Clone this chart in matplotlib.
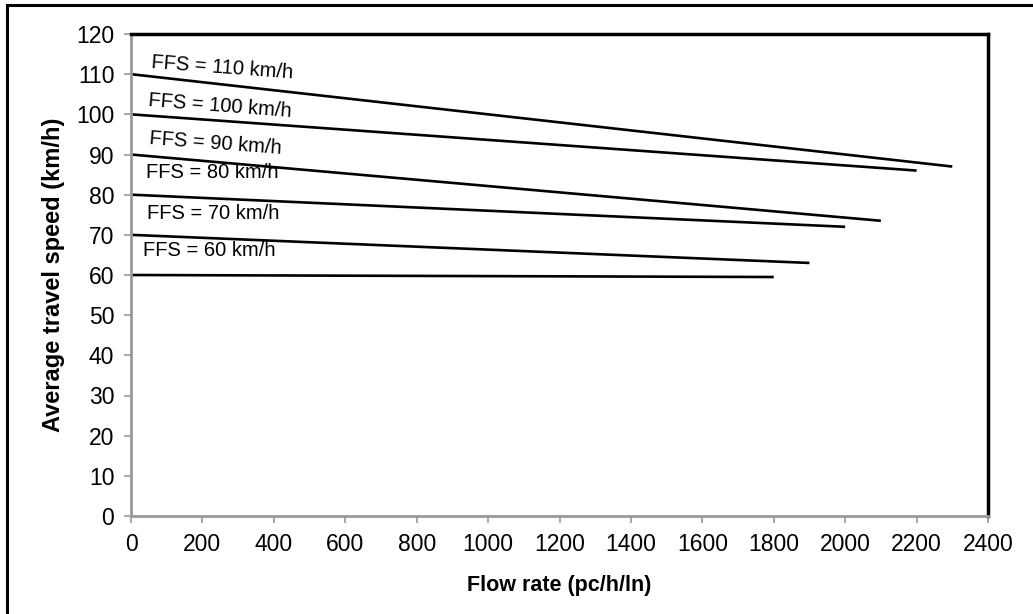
import matplotlib.pyplot as plt
from matplotlib.patches import Rectangle

# free-flow speed curves: start at zero flow, end at capacity
ffs = [110, 100, 90, 80, 70, 60]
capacity = [2300, 2200, 2100, 2000, 1900, 1800]
speed_at_capacity = [87.0, 86.0, 73.5, 72.0, 63.0, 59.5]
curve_labels = ['FFS = 110 km/h', 'FFS = 100 km/h', 'FFS = 90 km/h',
                'FFS = 80 km/h', 'FFS = 70 km/h', 'FFS = 60 km/h']

# where each curve label sits (flow, speed, angle)
label_place = [(58, 112.9, -4.2), (48, 103.4, -4.4), (52, 94.0, -4.3),
               (42, 85.5, 0), (44, 75.2, 0), (34, 66.0, 0)]

plt.rcParams['font.family'] = ['Liberation Sans', 'DejaVu Sans']

fig = plt.figure(figsize=(10.33, 6.14), dpi=100)
ax = fig.add_axes([131 / 1033, 98 / 614, 857 / 1033, 482 / 614])

for f, c, s in zip(ffs, capacity, speed_at_capacity):
    ax.plot([0, c], [f, s], color='black', lw=1.9, solid_capstyle='butt')

for txt, (x, y, ang) in zip(curve_labels, label_place):
    ax.text(x, y, txt, fontsize=14.5, ha='left', va='center',
            rotation=ang, rotation_mode='anchor')

ax.set_xlim(0, 2400)
ax.set_ylim(0, 120)
ax.set_xticks(range(0, 2401, 200))
ax.set_yticks(range(0, 121, 10))
ax.tick_params(axis='both', labelsize=16.5, length=5, width=1.2,
               color='#999999', pad=7)

ax.set_xlabel('Flow rate (pc/h/ln)', fontsize=15.5, fontweight='bold', labelpad=14)
ax.set_ylabel('Average travel speed (km/h)', fontsize=17, fontweight='bold', labelpad=8)

for side in ['left', 'bottom']:
    ax.spines[side].set_color('#999999')
    ax.spines[side].set_linewidth(2)
for side in ['top', 'right']:
    ax.spines[side].set_color('black')
    ax.spines[side].set_linewidth(2.5)

# outer frame around the chart area
fig.patches.append(Rectangle((7 / 1033, -0.05), 1.1, 1.05 - 5 / 614,
                             transform=fig.transFigure, fill=False,
                             edgecolor='black', lw=2.2))

fig.savefig('out.png', dpi=100)
